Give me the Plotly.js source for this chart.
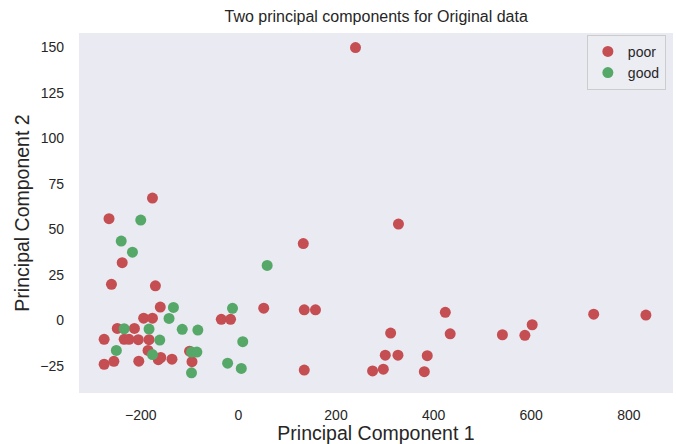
<!DOCTYPE html>
<html>
<head>
<meta charset="utf-8">
<script src="https://cdn.plot.ly/plotly-3.0.1.min.js"></script>
<style>html,body{margin:0;padding:0;background:#fff;}#chart{width:676px;height:444px;}</style>
</head>
<body>
<div id="chart"></div>
<script>
var poorX = [240, -176, -265, 328, 133, -238, -260, -170, -160, 52, 135, 158, -194, -176, -35, -16, 424, 728, 835, 602, -248, -213, 312, 434, 541, 587, -275, -234, -224, -205, -183, -185, -100, 301, 327, 387, -275, -255, -204, -164, -159, -136, -95, 135, 275, 297, 381];
var poorY = [150, 67.3, 56, 53, 42.3, 31.8, 19.9, 19.1, 7.4, 6.8, 5.9, 5.9, 1.3, 1.3, 0.7, 0.7, 4.5, 3.5, 3, -2.3, -4.3, -4.3, -6.9, -7.3, -7.8, -8.1, -10.3, -10.3, -10.3, -10.5, -10.5, -16.4, -16.8, -19, -19, -19.3, -24, -22.4, -22.3, -21.5, -20.3, -21.2, -22.6, -27.2, -27.7, -26.7, -28.1];
var goodX = [-200, -240, -217, 59, -133, -12, -142, -234, -183, -115, -83, -161, 9, -250, -176, -96, -85, -96, -22, 6];
var goodY = [55.2, 43.7, 37.6, 30.3, 7.2, 6.7, 1.2, -4.5, -4.7, -4.8, -5.2, -10.7, -11.6, -16.4, -18.7, -17.3, -17.3, -28.7, -23.4, -26.3];
var seriesNames = ["poor", "good"];
var titleText = "Two principal components for Original data";
var xTitle = "Principal Component 1";
var yTitle = "Principal Component 2";
var xTicks = [-200, 0, 200, 400, 600, 800];
var yTicks = [-25, 0, 25, 50, 75, 100, 125, 150];

var font = "Liberation Sans, Arial, sans-serif";
function fmt(v){ return v < 0 ? "\u2212" + Math.abs(v) : String(v); }
var traces = [
  {x: poorX, y: poorY, name: seriesNames[0], type: "scatter", mode: "markers",
   marker: {color: "#C44E52", size: 11, line: {width: 0}}},
  {x: goodX, y: goodY, name: seriesNames[1], type: "scatter", mode: "markers",
   marker: {color: "#55A868", size: 11, line: {width: 0}}}
];
var layout = {
  width: 676, height: 444,
  margin: {l: 79, r: 3, t: 33, b: 51, pad: 0},
  paper_bgcolor: "#ffffff",
  plot_bgcolor: "#EAEAF2",
  font: {family: font, color: "#262626", size: 14},
  title: {text: titleText, font: {family: font, size: 16, color: "#262626"}, x: 0.5565, xanchor: "center", y: 0.962, yanchor: "middle"},
  xaxis: {range: [-326.5, 890.5], tickvals: xTicks, ticktext: xTicks.map(fmt),
          showgrid: false, zeroline: false, showline: false, ticks: "", ticklabelstandoff: 12,
          tickfont: {size: 14, color: "#262626"},
          title: {text: xTitle, font: {size: 19.5, color: "#262626"}, standoff: 2}},
  yaxis: {range: [-39.8, 158], tickvals: yTicks, ticktext: yTicks.map(fmt),
          showgrid: false, zeroline: false, showline: false, ticks: "", ticklabelstandoff: 14,
          tickfont: {size: 14, color: "#262626"},
          title: {text: yTitle, font: {size: 19.5, color: "#262626"}, standoff: 5}},
  showlegend: true,
  legend: {x: 0.988, xanchor: "right", y: 0.995, yanchor: "top", bgcolor: "rgba(236,236,243,0.9)", bordercolor: "#CCCCCC", borderwidth: 1,
           font: {size: 14, color: "#262626"}, itemsizing: "trace", tracegroupgap: 0}
};
Plotly.newPlot("chart", traces, layout, {displayModeBar: false, staticPlot: true});
</script>
</body>
</html>
